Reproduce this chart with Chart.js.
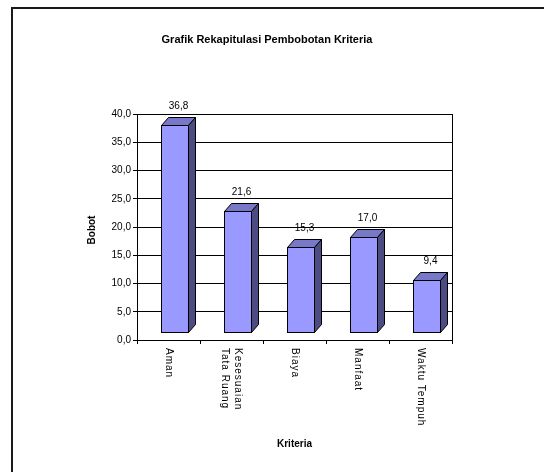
<!DOCTYPE html>
<html>
<head>
<meta charset="utf-8">
<script src="https://cdn.jsdelivr.net/npm/chart.js@4"></script>
<style>
  body { margin: 0; background: #fff; }
  #wrap { position: relative; width: 544px; height: 472px; overflow: hidden; }
  #frame { position: absolute; left: 11px; top: 7px; width: 600px; height: 600px; border-top: 2px solid #1a1a1a; border-left: 2px solid #1a1a1a; }
  canvas { position: absolute; left: 0; top: 0; }
</style>
</head>
<body>
<div id="wrap">
  <div id="frame"></div>
  <canvas id="chart" width="544" height="472"></canvas>
</div>
<script>
const categories = [["Aman"], ["Kesesuaian", "Tata Ruang"], ["Biaya"], ["Manfaat"], ["Waktu Tempuh"]];
const bobot = [36.8, 21.6, 15.3, 17.0, 9.4];
const yMin = 0;
const yMax = 40;
const yStep = 5;

const chartTitle = "Grafik Rekapitulasi Pembobotan Kriteria";
const yTitle = "Bobot";
const xTitle = "Kriteria";

const koma = v => v.toFixed(1).replace(".", ",");

const depthX = 7, depthY = 8; // kedalaman 3D
const frontColor = "#9999ff", topColor = "#7878c8", sideColor = "#4c4c82";

const bar3d = {
  id: "bar3d",
  afterDatasetsDraw(chart) {
    const ctx = chart.ctx;
    const meta = chart.getDatasetMeta(0);
    ctx.save();
    ctx.lineWidth = 1;
    ctx.strokeStyle = "#000";
    meta.data.forEach((el, i) => {
      const w = Math.round(el.width);
      const l = Math.round(el.x - el.width / 2 + 6) + 0.5;
      const r = l + w;
      const t = Math.round(el.y - 7) + 0.5;
      const b = Math.round(el.base - 8) + 0.5;
      // depan
      ctx.fillStyle = frontColor;
      ctx.fillRect(l, t, w, b - t);
      ctx.strokeRect(l, t, w, b - t);
      // atas
      ctx.beginPath();
      ctx.moveTo(l, t); ctx.lineTo(l + depthX, t - depthY); ctx.lineTo(r + depthX, t - depthY); ctx.lineTo(r, t); ctx.closePath();
      ctx.fillStyle = topColor; ctx.fill(); ctx.stroke();
      // samping
      ctx.beginPath();
      ctx.moveTo(r, t); ctx.lineTo(r + depthX, t - depthY); ctx.lineTo(r + depthX, b - depthY); ctx.lineTo(r, b); ctx.closePath();
      ctx.fillStyle = sideColor; ctx.fill(); ctx.stroke();
      // label nilai
      ctx.fillStyle = "#000";
      ctx.font = "10px 'Liberation Sans', Arial, sans-serif";
      ctx.textAlign = "center";
      ctx.textBaseline = "middle";
      ctx.fillText(koma(bobot[i]), (l + r + depthX) / 2, t - depthY - 11);
    });
    ctx.restore();
  }
};

const texts = {
  id: "texts",
  afterDraw(chart) {
    const ctx = chart.ctx;
    const area = chart.chartArea;
    const xs = chart.scales.x;
    ctx.save();
    // garis kanan plot
    ctx.strokeStyle = "#000";
    ctx.lineWidth = 1;
    ctx.beginPath();
    ctx.moveTo(Math.round(area.right) + 0.5, area.top);
    ctx.lineTo(Math.round(area.right) + 0.5, area.bottom + 4);
    ctx.stroke();

    ctx.fillStyle = "#000";
    ctx.font = "bold 11px 'Liberation Sans', Arial, sans-serif";
    ctx.textAlign = "center";
    ctx.textBaseline = "middle";
    ctx.fillText(chartTitle, 267, 40);

    ctx.font = "bold 10px 'Liberation Sans', Arial, sans-serif";
    ctx.fillText(xTitle, (area.left + area.right) / 2, 444);

    ctx.save();
    ctx.translate(92, 230);
    ctx.rotate(-Math.PI / 2);
    ctx.fillText(yTitle, 0, 0);
    ctx.restore();

    // label kategori, diputar searah jarum jam
    ctx.font = "10px 'Liberation Sans', Arial, sans-serif";
    ctx.letterSpacing = "1px";
    ctx.textAlign = "left";
    categories.forEach((lines, i) => {
      const x = xs.getPixelForValue(i);
      ctx.save();
      ctx.translate(x, 348);
      ctx.rotate(Math.PI / 2);
      lines.forEach((s, j) => {
        ctx.fillText(s, 0, (j - (lines.length - 1) / 2) * 13);
      });
      ctx.restore();
    });
    ctx.restore();
  }
};

new Chart(document.getElementById("chart"), {
  type: "bar",
  data: {
    labels: categories,
    datasets: [{
      data: bobot,
      backgroundColor: "rgba(0,0,0,0)",
      borderWidth: 0,
      categoryPercentage: 1,
      barPercentage: 0.43
    }]
  },
  options: {
    responsive: false,
    animation: false,
    events: [],
    layout: { padding: { top: 114, right: 92, left: 0, bottom: 0 } },
    plugins: { legend: { display: false }, title: { display: false }, tooltip: { enabled: false } },
    scales: {
      x: {
        grid: { offset: true, drawOnChartArea: false, drawTicks: true, tickLength: 4, tickColor: "#000" },
        border: { color: "#000", width: 1 },
        ticks: { display: false },
        afterFit(scale) { scale.height = 132; }
      },
      y: {
        min: yMin,
        max: yMax,
        grid: { color: "#000", tickLength: 4, tickColor: "#000" },
        border: { color: "#000", width: 1 },
        ticks: {
          stepSize: yStep,
          padding: 2,
          color: "#000",
          font: { family: "'Liberation Sans', Arial, sans-serif", size: 10 },
          callback: v => koma(v)
        },
        afterFit(scale) { scale.height; scale.width = 137; }
      }
    }
  },
  plugins: [bar3d, texts]
});
</script>
</body>
</html>
